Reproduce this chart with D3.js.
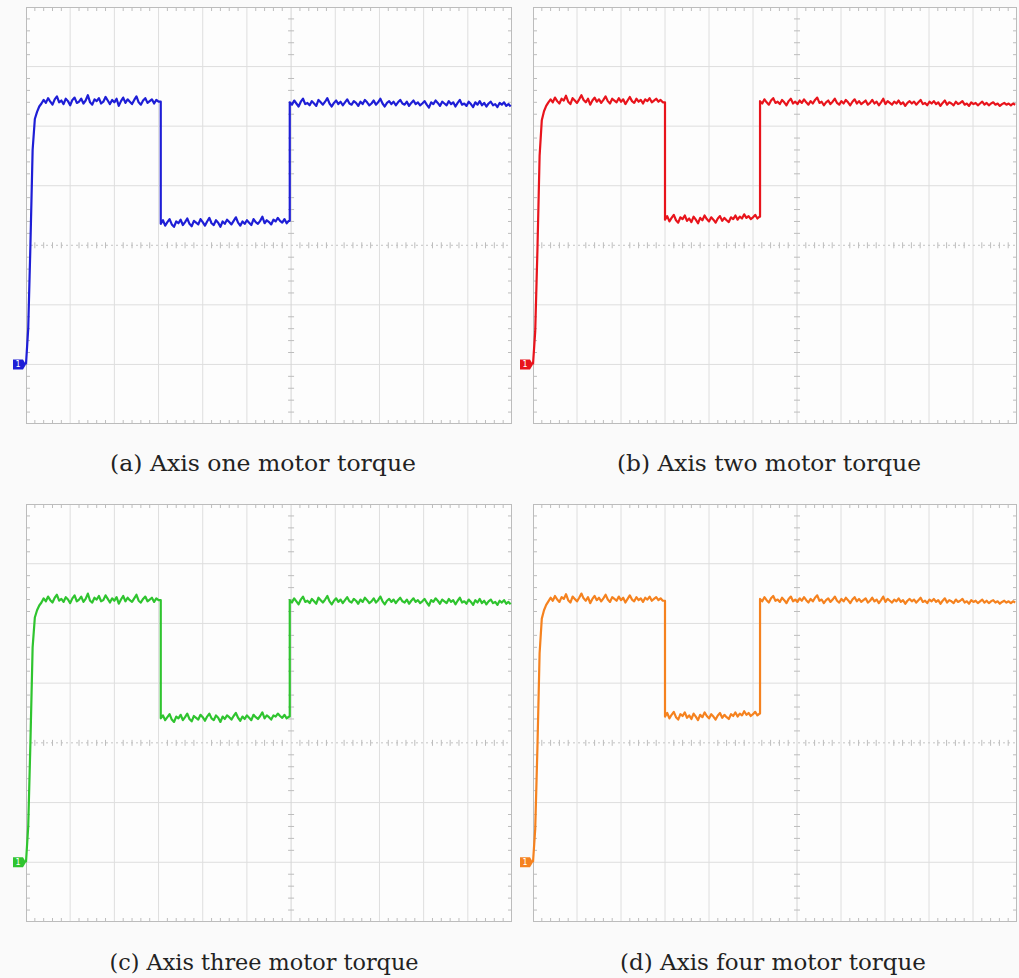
<!DOCTYPE html>
<html lang="en">
<head>
<meta charset="utf-8">
<title>Motor torque</title>
<style>
  body { margin: 0; background: #fafafa; }
  svg { display: block; }
  .caption { font-family: "DejaVu Serif", serif; font-size: 23px; fill: #222; }
</style>
</head>
<body>
<svg id="chart" width="1019" height="978"></svg>
<script src="https://d3js.org/d3.v7.min.js"></script>
<script>
// sample step of the scope traces, in horizontal divisions
const dt = 0.05;

const captions = ['(a) Axis one motor torque', '(b) Axis two motor torque',
                  '(c) Axis three motor torque', '(d) Axis four motor torque'];

// segment start times (divisions) : rise+high, low, high
const edgesA = [0, 3.05, 5.97];
const edgesB = [0, 3.0, 5.16];
const edgesC = [0, 3.05, 5.97];
const edgesD = [0, 3.0, 5.16];

// torque values, divisions above channel ground
const torqueA1 = [0, 0.6, 2.0, 3.6, 4.12, 4.24, 4.33, 4.38,
  4.44, 4.39, 4.47, 4.41, 4.36, 4.45, 4.50, 4.40, 4.43, 4.37,
  4.46, 4.42, 4.35, 4.44, 4.48, 4.39, 4.41, 4.46, 4.38, 4.43,
  4.52, 4.40, 4.36, 4.45, 4.42, 4.47, 4.38, 4.41, 4.49, 4.43,
  4.37, 4.44, 4.40, 4.46, 4.34, 4.42, 4.48, 4.39, 4.45, 4.41,
  4.37, 4.44, 4.50, 4.40, 4.36, 4.43, 4.47, 4.39, 4.42, 4.45,
  4.38, 4.44, 4.41];
const torqueA2 = [2.36, 2.42, 2.33, 2.39, 2.44, 2.35, 2.31, 2.40, 2.37, 2.43,
  2.34, 2.39, 2.45, 2.36, 2.32, 2.41, 2.38, 2.35, 2.44, 2.39,
  2.33, 2.40, 2.46, 2.37, 2.34, 2.42, 2.38, 2.31, 2.40, 2.36,
  2.43, 2.39, 2.35, 2.41, 2.47, 2.38, 2.33, 2.40, 2.36, 2.42,
  2.38, 2.34, 2.44, 2.39, 2.36, 2.41, 2.48, 2.37, 2.42, 2.39,
  2.35, 2.43, 2.40, 2.46, 2.41, 2.38, 2.44, 2.37, 2.41, 2.45];
const torqueA3 = [4.40, 4.36, 4.43, 4.38, 4.33, 4.41, 4.46, 4.37, 4.39, 4.35,
  4.42, 4.38, 4.34, 4.44, 4.40, 4.36, 4.41, 4.47, 4.38, 4.33,
  4.39, 4.43, 4.37, 4.41, 4.35, 4.40, 4.45, 4.38, 4.36, 4.42,
  4.39, 4.34, 4.41, 4.37, 4.44, 4.40, 4.35, 4.38, 4.43, 4.36,
  4.40, 4.46, 4.38, 4.33, 4.39, 4.42, 4.37, 4.41, 4.35, 4.40,
  4.44, 4.38, 4.36, 4.41, 4.34, 4.39, 4.43, 4.37, 4.40, 4.35,
  4.38, 4.42, 4.36, 4.31, 4.40, 4.37, 4.43, 4.39, 4.34, 4.41,
  4.38, 4.35, 4.42, 4.37, 4.40, 4.33, 4.39, 4.44, 4.36, 4.38,
  4.34, 4.41, 4.37, 4.32, 4.40, 4.36, 4.42, 4.35, 4.39, 4.33,
  4.38, 4.41, 4.35, 4.37, 4.32, 4.39, 4.36, 4.40, 4.34, 4.37,
  4.33, 4.38];

const torqueB1 = [0, 0.55, 1.9, 3.5, 4.1, 4.25, 4.34, 4.40,
  4.45, 4.40, 4.48, 4.42, 4.38, 4.46, 4.43, 4.51, 4.41, 4.37,
  4.47, 4.43, 4.39, 4.45, 4.52, 4.44, 4.40, 4.46, 4.36, 4.43,
  4.48, 4.41, 4.45, 4.39, 4.44, 4.50, 4.42, 4.38, 4.46, 4.43,
  4.40, 4.47, 4.41, 4.45, 4.37, 4.43, 4.49, 4.42, 4.39, 4.46,
  4.41, 4.44, 4.38, 4.45, 4.42, 4.47, 4.40, 4.43, 4.46, 4.41,
  4.44, 4.40];
const torqueB2 = [2.43, 2.49, 2.40, 2.46, 2.51, 2.42, 2.38, 2.47, 2.44, 2.50,
  2.41, 2.45, 2.39, 2.48, 2.43, 2.37, 2.46, 2.42, 2.50, 2.44,
  2.40, 2.47, 2.43, 2.38, 2.45, 2.49, 2.41, 2.46, 2.42, 2.39,
  2.47, 2.44, 2.50, 2.43, 2.48, 2.45, 2.52, 2.46, 2.49, 2.44,
  2.47, 2.51, 2.45, 2.48, 2.46];
const torqueB3 = [4.42, 4.38, 4.45, 4.40, 4.36, 4.43, 4.47, 4.39, 4.41, 4.37,
  4.44, 4.40, 4.35, 4.42, 4.46, 4.38, 4.41, 4.37, 4.43, 4.39,
  4.45, 4.40, 4.36, 4.42, 4.38, 4.44, 4.48, 4.39, 4.41, 4.35,
  4.40, 4.43, 4.37, 4.41, 4.46, 4.39, 4.36, 4.42, 4.38, 4.44,
  4.40, 4.35, 4.41, 4.45, 4.38, 4.42, 4.37, 4.40, 4.43, 4.36,
  4.39, 4.44, 4.38, 4.41, 4.35, 4.40, 4.46, 4.37, 4.42, 4.39,
  4.36, 4.41, 4.38, 4.43, 4.37, 4.40, 4.34, 4.39, 4.42, 4.38,
  4.41, 4.36, 4.40, 4.44, 4.37, 4.39, 4.35, 4.41, 4.38, 4.42,
  4.37, 4.40, 4.34, 4.39, 4.43, 4.36, 4.40, 4.38, 4.35, 4.41,
  4.37, 4.39, 4.42, 4.36, 4.38, 4.34, 4.40, 4.37, 4.39, 4.35,
  4.38, 4.41, 4.36, 4.39, 4.35, 4.38, 4.40, 4.36, 4.38, 4.34,
  4.37, 4.39, 4.36, 4.38, 4.35, 4.38, 4.36, 4.39];

const torqueC1 = [0, 0.6, 2.0, 3.6, 4.1, 4.22, 4.30, 4.35,
  4.42, 4.37, 4.45, 4.39, 4.35, 4.43, 4.48, 4.38, 4.41, 4.36,
  4.44, 4.40, 4.34, 4.42, 4.47, 4.37, 4.40, 4.45, 4.36, 4.41,
  4.50, 4.38, 4.35, 4.43, 4.40, 4.46, 4.37, 4.39, 4.47, 4.41,
  4.35, 4.42, 4.38, 4.44, 4.33, 4.40, 4.46, 4.37, 4.43, 4.39,
  4.36, 4.42, 4.48, 4.38, 4.35, 4.41, 4.45, 4.37, 4.40, 4.43,
  4.36, 4.42, 4.39];
const torqueC2 = [2.41, 2.46, 2.38, 2.43, 2.48, 2.39, 2.35, 2.44, 2.41, 2.47,
  2.38, 2.43, 2.49, 2.40, 2.36, 2.45, 2.42, 2.39, 2.47, 2.43,
  2.37, 2.44, 2.49, 2.41, 2.38, 2.46, 2.42, 2.35, 2.44, 2.40,
  2.46, 2.43, 2.39, 2.45, 2.50, 2.42, 2.37, 2.44, 2.40, 2.46,
  2.42, 2.38, 2.47, 2.43, 2.40, 2.45, 2.51, 2.41, 2.46, 2.43,
  2.39, 2.46, 2.44, 2.49, 2.45, 2.42, 2.47, 2.41, 2.44, 2.48];
const torqueC3 = [4.39, 4.35, 4.42, 4.37, 4.32, 4.40, 4.45, 4.36, 4.38, 4.34,
  4.41, 4.37, 4.33, 4.43, 4.39, 4.35, 4.40, 4.46, 4.37, 4.32,
  4.38, 4.42, 4.36, 4.40, 4.34, 4.39, 4.44, 4.37, 4.35, 4.41,
  4.38, 4.33, 4.40, 4.36, 4.43, 4.39, 4.34, 4.37, 4.42, 4.35,
  4.39, 4.45, 4.37, 4.32, 4.38, 4.41, 4.36, 4.40, 4.34, 4.39,
  4.43, 4.37, 4.35, 4.40, 4.33, 4.38, 4.42, 4.36, 4.39, 4.34,
  4.37, 4.41, 4.35, 4.30, 4.39, 4.36, 4.42, 4.38, 4.33, 4.40,
  4.37, 4.34, 4.41, 4.36, 4.39, 4.32, 4.38, 4.43, 4.35, 4.37,
  4.33, 4.40, 4.36, 4.31, 4.39, 4.35, 4.41, 4.34, 4.38, 4.32,
  4.37, 4.40, 4.34, 4.36, 4.31, 4.38, 4.35, 4.39, 4.33, 4.36,
  4.32, 4.37];

const torqueD1 = [0, 0.55, 1.9, 3.5, 4.08, 4.22, 4.31, 4.37,
  4.43, 4.38, 4.46, 4.40, 4.36, 4.44, 4.41, 4.49, 4.39, 4.35,
  4.45, 4.41, 4.37, 4.43, 4.50, 4.42, 4.38, 4.44, 4.34, 4.41,
  4.46, 4.39, 4.43, 4.37, 4.42, 4.48, 4.40, 4.36, 4.44, 4.41,
  4.38, 4.45, 4.39, 4.43, 4.35, 4.41, 4.47, 4.40, 4.37, 4.44,
  4.39, 4.42, 4.36, 4.43, 4.40, 4.45, 4.38, 4.41, 4.44, 4.39,
  4.42, 4.38];
const torqueD2 = [2.44, 2.50, 2.41, 2.47, 2.52, 2.43, 2.39, 2.48, 2.45, 2.51,
  2.42, 2.46, 2.40, 2.49, 2.44, 2.38, 2.47, 2.43, 2.51, 2.45,
  2.41, 2.48, 2.44, 2.39, 2.46, 2.50, 2.42, 2.47, 2.43, 2.40,
  2.48, 2.45, 2.51, 2.44, 2.49, 2.46, 2.53, 2.47, 2.50, 2.45,
  2.48, 2.52, 2.46, 2.49, 2.47];
const torqueD3 = [4.41, 4.37, 4.44, 4.39, 4.35, 4.42, 4.46, 4.38, 4.40, 4.36,
  4.43, 4.39, 4.34, 4.41, 4.45, 4.37, 4.40, 4.36, 4.42, 4.38,
  4.44, 4.39, 4.35, 4.41, 4.37, 4.43, 4.47, 4.38, 4.40, 4.34,
  4.39, 4.42, 4.36, 4.40, 4.45, 4.38, 4.35, 4.41, 4.37, 4.43,
  4.39, 4.34, 4.40, 4.44, 4.37, 4.41, 4.36, 4.39, 4.42, 4.35,
  4.38, 4.43, 4.37, 4.40, 4.34, 4.39, 4.45, 4.36, 4.41, 4.38,
  4.35, 4.40, 4.37, 4.42, 4.36, 4.39, 4.33, 4.38, 4.41, 4.37,
  4.40, 4.35, 4.39, 4.43, 4.36, 4.38, 4.34, 4.40, 4.37, 4.41,
  4.36, 4.39, 4.33, 4.38, 4.42, 4.35, 4.39, 4.37, 4.34, 4.40,
  4.36, 4.38, 4.41, 4.35, 4.37, 4.33, 4.39, 4.36, 4.38, 4.34,
  4.37, 4.40, 4.35, 4.38, 4.34, 4.37, 4.39, 4.35, 4.37, 4.33,
  4.36, 4.38, 4.35, 4.37, 4.34, 4.37, 4.35, 4.38];

// grid: 11 horizontal divisions, 7 vertical (1 below ground, 6 above)
const xDivs = [0, 11], yDivs = [-1, 6];
const centerT = 6, centerV = 2;

var panels = [
  { caption: captions[0], edges: edgesA, segs: [torqueA1, torqueA2, torqueA3], color: '#1e1ed6',
    box: { x0: 26, x1: 512, y0: 7, y1: 424 }, capX: 263, capY: 471, capW: 306 },
  { caption: captions[1], edges: edgesB, segs: [torqueB1, torqueB2, torqueB3], color: '#e8141c',
    box: { x0: 533, x1: 1017, y0: 7, y1: 424 }, capX: 769, capY: 471, capW: 304 },
  { caption: captions[2], edges: edgesC, segs: [torqueC1, torqueC2, torqueC3], color: '#2fc42f',
    box: { x0: 26, x1: 512, y0: 504, y1: 922 }, capX: 264, capY: 970, capW: 309 },
  { caption: captions[3], edges: edgesD, segs: [torqueD1, torqueD2, torqueD3], color: '#f5821f',
    box: { x0: 533, x1: 1017, y0: 504, y1: 922 }, capX: 773, capY: 970, capW: 303 }
];

var svg = d3.select('#chart');

// turn segments into (t, v) points
function tracePoints(p) {
  var pts = [];
  p.segs.forEach(function(vals, k) {
    var t0 = p.edges[k];
    var tEnd = k + 1 < p.edges.length ? p.edges[k + 1] : xDivs[1];
    var last = null;
    vals.forEach(function(v, i) {
      var t = t0 + i * dt;
      if (t < tEnd - 1e-6) { pts.push([t, v]); last = v; }
    });
    if (k + 1 < p.edges.length) pts.push([tEnd, last]);
  });
  return pts;
}

panels.forEach(function(p) {
  var b = p.box;
  var x = d3.scaleLinear().domain(xDivs).range([b.x0, b.x1]);
  var y = d3.scaleLinear().domain(yDivs).range([b.y1, b.y0]);
  var g = svg.append('g');

  g.append('rect')
    .attr('x', b.x0).attr('y', b.y0)
    .attr('width', b.x1 - b.x0).attr('height', b.y1 - b.y0)
    .attr('fill', '#fdfdfd');

  // major grid
  g.selectAll('line.vg').data(d3.range(1, 11).filter(function(d) { return d !== centerT; }))
    .enter().append('line')
    .attr('x1', function(d) { return x(d); }).attr('x2', function(d) { return x(d); })
    .attr('y1', b.y0).attr('y2', b.y1)
    .attr('stroke', '#dedede').attr('stroke-width', 1);
  g.selectAll('line.hg').data(d3.range(0, 6).filter(function(d) { return d !== centerV; }))
    .enter().append('line')
    .attr('y1', function(d) { return y(d); }).attr('y2', function(d) { return y(d); })
    .attr('x1', b.x0).attr('x2', b.x1)
    .attr('stroke', '#dedede').attr('stroke-width', 1);

  // center lines
  g.append('line')
    .attr('x1', x(centerT)).attr('x2', x(centerT)).attr('y1', b.y0).attr('y2', b.y1)
    .attr('stroke', '#d4d4d4');
  g.append('line')
    .attr('x1', b.x0).attr('x2', b.x1).attr('y1', y(centerV)).attr('y2', y(centerV))
    .attr('stroke', '#c4c4c4').attr('stroke-dasharray', '2,3');

  // minor ticks, 5 per division
  var minorT = d3.range(1, 55).map(function(i) { return i / 5; }).filter(function(d) { return Math.abs(d - Math.round(d)) > 1e-6; });
  var minorV = d3.range(-4, 30).map(function(i) { return i / 5; }).filter(function(d) { return Math.abs(d - Math.round(d)) > 1e-6; });
  var tk = 4;
  var ticks = [];
  minorT.forEach(function(t) {
    ticks.push([x(t), b.y0, x(t), b.y0 + tk]);
    ticks.push([x(t), b.y1, x(t), b.y1 - tk]);
    ticks.push([x(t), y(centerV) - 3, x(t), y(centerV) + 3]);
  });
  minorV.forEach(function(v) {
    ticks.push([b.x0, y(v), b.x0 + tk, y(v)]);
    ticks.push([b.x1, y(v), b.x1 - tk, y(v)]);
    ticks.push([x(centerT) - 3, y(v), x(centerT) + 3, y(v)]);
  });
  g.selectAll('line.tk').data(ticks).enter().append('line')
    .attr('x1', function(d) { return d[0]; }).attr('y1', function(d) { return d[1]; })
    .attr('x2', function(d) { return d[2]; }).attr('y2', function(d) { return d[3]; })
    .attr('stroke', '#bdbdbd').attr('stroke-width', 1);

  // border
  g.append('rect')
    .attr('x', b.x0 + 0.5).attr('y', b.y0 + 0.5)
    .attr('width', b.x1 - b.x0 - 1).attr('height', b.y1 - b.y0 - 1)
    .attr('fill', 'none').attr('stroke', '#bcbcbc');

  // trace
  var line = d3.line()
    .x(function(d) { return x(d[0]); })
    .y(function(d) { return y(d[1]); });
  g.append('path')
    .datum(tracePoints(p))
    .attr('d', line)
    .attr('fill', 'none')
    .attr('stroke', p.color)
    .attr('stroke-width', 2.2)
    .attr('stroke-linejoin', 'round');

  // channel marker at ground level
  var my = y(0), mx = b.x0;
  g.append('path')
    .attr('d', 'M' + (mx - 13) + ',' + (my - 5) + 'H' + (mx - 3) + 'L' + mx + ',' + my +
               'L' + (mx - 3) + ',' + (my + 5) + 'H' + (mx - 13) + 'Z')
    .attr('fill', p.color);
  g.append('text')
    .attr('x', mx - 8).attr('y', my + 3)
    .attr('text-anchor', 'middle')
    .attr('font-family', 'DejaVu Sans')
    .attr('font-size', 8)
    .attr('fill', '#fff')
    .text('1');

  // caption
  var cap = g.append('text')
    .attr('class', 'caption')
    .attr('x', p.capX).attr('y', p.capY)
    .attr('text-anchor', 'middle')
    .text(p.caption);
  var w = cap.node().getComputedTextLength();
  if (Math.abs(w - p.capW) > 3) cap.attr('textLength', p.capW).attr('lengthAdjust', 'spacingAndGlyphs');
});
</script>
</body>
</html>
